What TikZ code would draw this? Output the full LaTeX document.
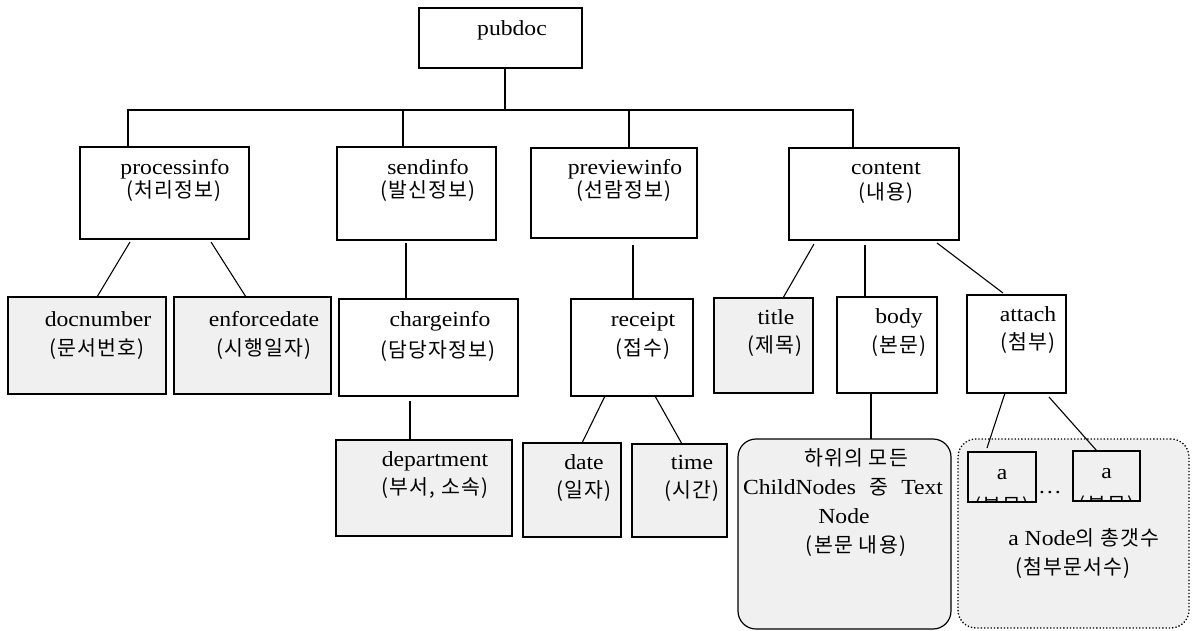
\documentclass[tikz,border=0pt]{standalone}
\usepackage{fontspec}
\setmainfont{Liberation Serif}[FakeStretch=1.1]
\newfontfamily\kr{Noto Sans CJK KR}[LetterSpace=6]
\newcommand\latText[1]{{\rmfamily\fontsize{21.5}{25}\selectfont #1}}
\newcommand\korText[1]{{\kr\fontsize{20.5}{24}\selectfont #1}}
\begin{document}
\begin{tikzpicture}[x=1pt,y=-1pt,
  every node/.style={inner sep=0pt, outer sep=0pt},
  plainbox/.style={draw, line width=1.2pt, fill=white},
  greybox/.style={draw, line width=1.2pt, fill=black!6},
  roundgrey/.style={draw, line width=1.2pt, fill=black!6, rounded corners=18pt},
  dotgroup/.style={draw, dotted, line width=1.3pt, fill=black!6, rounded corners=18pt},
  lat/.style={anchor=base, font=\fontsize{21.5}{25}\selectfont},
  kor/.style={anchor=base, font=\kr\fontsize{20.5}{24}\selectfont},
  mixed/.style={anchor=base},
  link/.style={line width=1.1pt}]
\useasboundingbox (0,0) rectangle (1195,630);

% ---- boxes, top level
\node[plainbox, minimum width=163, minimum height=60] (pubdoc) at (500.5,38) {};
\node[plainbox, minimum width=169, minimum height=92] (processinfo) at (164.5,193) {};
\node[plainbox, minimum width=159, minimum height=93] (sendinfo) at (416.5,193.5) {};
\node[plainbox, minimum width=166, minimum height=90] (previewinfo) at (614,193) {};
\node[plainbox, minimum width=170, minimum height=92] (content) at (874,194) {};

% ---- second level
\node[greybox, minimum width=158, minimum height=97] (docnumber) at (87,345.5) {};
\node[greybox, minimum width=157, minimum height=97] (enforcedate) at (252.5,345.5) {};
\node[plainbox, minimum width=179, minimum height=97] (chargeinfo) at (428.5,347.5) {};
\node[plainbox, minimum width=122, minimum height=97] (receipt) at (632,347.5) {};
\node[greybox, minimum width=99, minimum height=95] (title) at (763.5,345.5) {};
\node[plainbox, minimum width=100, minimum height=96] (body) at (887,345) {};
\node[plainbox, minimum width=99, minimum height=98] (attach) at (1016.5,344) {};

% ---- third level
\node[greybox, minimum width=176, minimum height=96] (department) at (424,488) {};
\node[greybox, minimum width=98, minimum height=94] (date) at (572,490) {};
\node[greybox, minimum width=95, minimum height=93] (time) at (679.5,490.5) {};
\node[roundgrey, minimum width=213, minimum height=190] (bodytext) at (844.5,534) {};
\node[dotgroup, minimum width=231, minimum height=189] (attgroup) at (1073.5,533.5) {};
\node[greybox, minimum width=68, minimum height=50] (aone) at (1002,477) {};
\node[greybox, minimum width=67, minimum height=50] (atwo) at (1106.5,476) {};

% ---- labels
\node[lat] (pubdoc-l) at (512,35) {pubdoc};
\node[lat] (processinfo-l) at (175,174) {processinfo};
\node[kor] (processinfo-k) at (174,197) {(처리정보)};
\node[lat] (sendinfo-l) at (428,174) {sendinfo};
\node[kor] (sendinfo-k) at (428,197) {(발신정보)};
\node[lat] (previewinfo-l) at (625,174) {previewinfo};
\node[kor] (previewinfo-k) at (624,197) {(선람정보)};
\node[lat] (content-l) at (886,174) {content};
\node[kor] (content-k) at (886,199) {(내용)};

\node[lat] (docnumber-l) at (98,326) {docnumber};
\node[kor] (docnumber-k) at (97,355) {(문서번호)};
\node[lat] (enforcedate-l) at (264,326) {enforcedate};
\node[kor] (enforcedate-k) at (264,355) {(시행일자)};
\node[lat] (chargeinfo-l) at (440,326) {chargeinfo};
\node[kor] (chargeinfo-k) at (438,357) {(담당자정보)};
\node[lat] (receipt-l) at (643,326) {receipt};
\node[kor] (receipt-k) at (643,355) {(접수)};
\node[lat] (title-l) at (776,324) {title};
\node[kor] (title-k) at (775,352) {(제목)};
\node[lat] (body-l) at (899,323) {body};
\node[kor] (body-k) at (899,352) {(본문)};
\node[lat] (attach-l) at (1028,321) {attach};
\node[kor] (attach-k) at (1028,349) {(첨부)};

\node[lat] (department-l) at (435,466) {department};
\node[kor] (department-k) at (435,494) {(부서, 소속)};
\node[lat] (date-l) at (584,469) {date};
\node[kor] (date-k) at (584,497) {(일자)};
\node[lat] (time-l) at (692,469) {time};
\node[kor] (time-k) at (692,497) {(시간)};

\node[kor] (bodytext-1) at (856,465) {하위의 모든};
\node[mixed] (bodytext-2) at (843,494) {\makebox[200pt][s]{\latText{ChildNodes} \korText{중} \latText{Text}}};
\node[lat] (bodytext-3) at (844,523) {Node};
\node[kor] (bodytext-4) at (856,552) {(본문 내용)};

\node[mixed] (attgroup-1) at (1084,545) {\latText{a Node}\korText{의 총갯수}};
\node[kor] (attgroup-2) at (1073,574) {(첨부문서수)};

% attachment items: the second line is cut off by the item frame
\begin{scope}
  \clip (aone.south west) rectangle (aone.north east);
  \node[kor] (aone-k) at (1002,513) {(본문)};
\end{scope}
\begin{scope}
  \clip (atwo.south west) rectangle (atwo.north east);
  \node[kor] (atwo-k) at (1106.5,512) {(본문)};
\end{scope}
\draw[line width=1.2pt] (aone.south west) rectangle (aone.north east);
\draw[line width=1.2pt] (atwo.south west) rectangle (atwo.north east);
\node[lat] (aone-l) at (1002,479) {a};
\node[lat] (atwo-l) at (1106.5,478) {a};
\node[lat] (dots) at (1050,493) {\dots};

% ---- connectors
\coordinate (bus) at (505,110);
\draw[link] (pubdoc.south -| bus) -- (bus);
\draw[link] ([xshift=-36.5]processinfo.north) |- (bus) -| ([xshift=-21]content.north);
\draw[link] ([xshift=-13.5]sendinfo.north) -- ++(0,-37);
\draw[link] ([xshift=15]previewinfo.north) -- ++(0,-38);

\draw[link] ([xshift=-34.5,yshift=-3]processinfo.south) -- ([xshift=10]docnumber.north);
\draw[link] ([xshift=46.5,yshift=-3]processinfo.south) -- ([xshift=-6.5]enforcedate.north);
\draw[link] ([xshift=-10.5,yshift=-3]sendinfo.south) -- ([xshift=-22.5]chargeinfo.north);
\draw[link] ([xshift=19,yshift=-7]previewinfo.south) -- ([xshift=1]receipt.north);
\draw[link] ([xshift=-60,yshift=-4]content.south) -- ([xshift=19.5]title.north);
\draw[link] ([xshift=-9,yshift=-5]content.south) -- ([xshift=-22]body.north);
\draw[link] ([xshift=63,yshift=-3]content.south) -- ([xshift=-13.5,yshift=2]attach.north);

\draw[link] ([xshift=-18.5,yshift=-5]chargeinfo.south) -- ([xshift=-14]department.north);
\draw[link] ([xshift=-27]receipt.south) -- ([xshift=10]date.north);
\draw[link] ([xshift=23]receipt.south) -- ([xshift=2.5]time.north);
\draw[link] ([xshift=-16]body.south) -- ([xshift=26.5]bodytext.north);
\draw[link] ([xshift=-11.5]attach.south) -- ([xshift=-15,yshift=4]aone.north);
\draw[link] ([xshift=32.5,yshift=-4]attach.south) -- ([xshift=-9.5]atwo.north);
\end{tikzpicture}
\end{document}
